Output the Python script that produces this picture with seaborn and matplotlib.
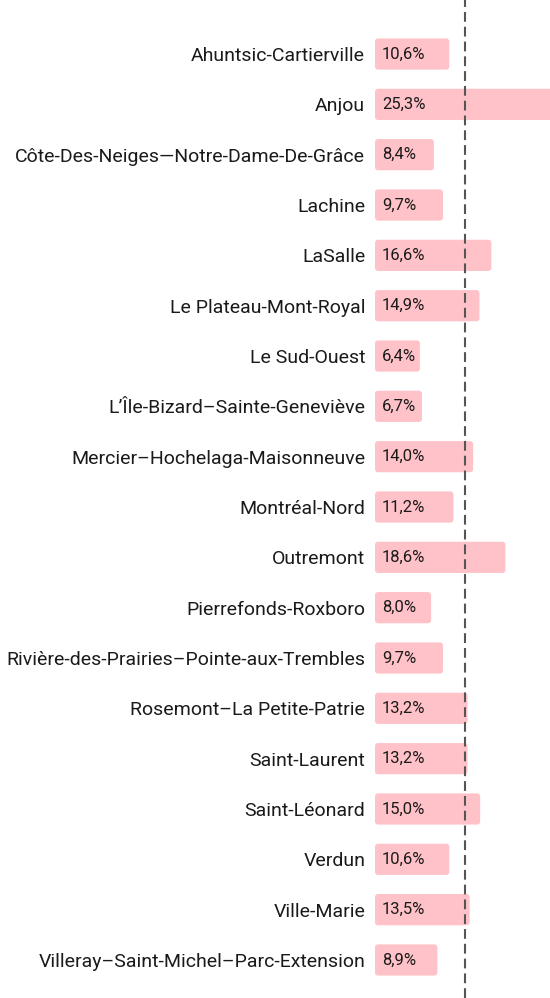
import seaborn as sns
import matplotlib.pyplot as plt
import pandas as pd
from matplotlib.patches import FancyBboxPatch

arrondissements = [
    "Ahuntsic-Cartierville", "Anjou", "Côte-Des-Neiges—Notre-Dame-De-Grâce",
    "Lachine", "LaSalle", "Le Plateau-Mont-Royal", "Le Sud-Ouest",
    "L’Île-Bizard–Sainte-Geneviève", "Mercier–Hochelaga-Maisonneuve",
    "Montréal-Nord", "Outremont", "Pierrefonds-Roxboro",
    "Rivière-des-Prairies–Pointe-aux-Trembles", "Rosemont–La Petite-Patrie",
    "Saint-Laurent", "Saint-Léonard", "Verdun", "Ville-Marie",
    "Villeray–Saint-Michel–Parc-Extension",
]
pourcentages = [10.6, 25.3, 8.4, 9.7, 16.6, 14.9, 6.4, 6.7, 14.0, 11.2,
                18.6, 8.0, 9.7, 13.2, 13.2, 15.0, 10.6, 13.5, 8.9]
moyenne = 12.85

df = pd.DataFrame({"arr": arrondissements, "pct": pourcentages})

sns.set_style("white")
plt.rcParams["font.family"] = ["Roboto", "DejaVu Sans"]

fig = plt.figure(figsize=(5.5, 9.98), dpi=100)
ax = fig.add_axes([375 / 550, 0, 175 / 550, 1])

sns.barplot(data=df, x="pct", y="arr", color="#ffc2c8", saturation=1,
            width=0.62, ax=ax)

# coins arrondis
px_x = 1 / 7.01
px_y = 1 / 50.3
for p in list(ax.patches):
    x, y = p.get_x(), p.get_y()
    w, h = p.get_width(), p.get_height()
    p.remove()
    ax.add_patch(FancyBboxPatch((x, y), w, h,
                                boxstyle=f"round,pad=0,rounding_size={3 * px_x}",
                                mutation_aspect=px_y / px_x,
                                fc="#ffc2c8", ec="none", zorder=1))

for i, v in enumerate(pourcentages):
    ax.text(7 * px_x, i, f"{v:.1f}%".replace(".", ","), va="center",
            ha="left", fontsize=12, color="#1a1a1a", zorder=3)

ax.axvline(moyenne, color="#555555", lw=1.5, ls=(0, (4.7, 2.4)), zorder=2)

ax.set_xlim(0, 175 * px_x)
ax.set_ylim(18 + 38 * px_y, -54 * px_y)
ax.set_xlabel("")
ax.set_ylabel("")
ax.set_xticks([])
ax.tick_params(axis="y", length=0, pad=7, labelsize=14, labelcolor="#1a1a1a")
sns.despine(ax=ax, left=True, bottom=True)

fig.savefig("out.png", dpi=100, facecolor="white")
